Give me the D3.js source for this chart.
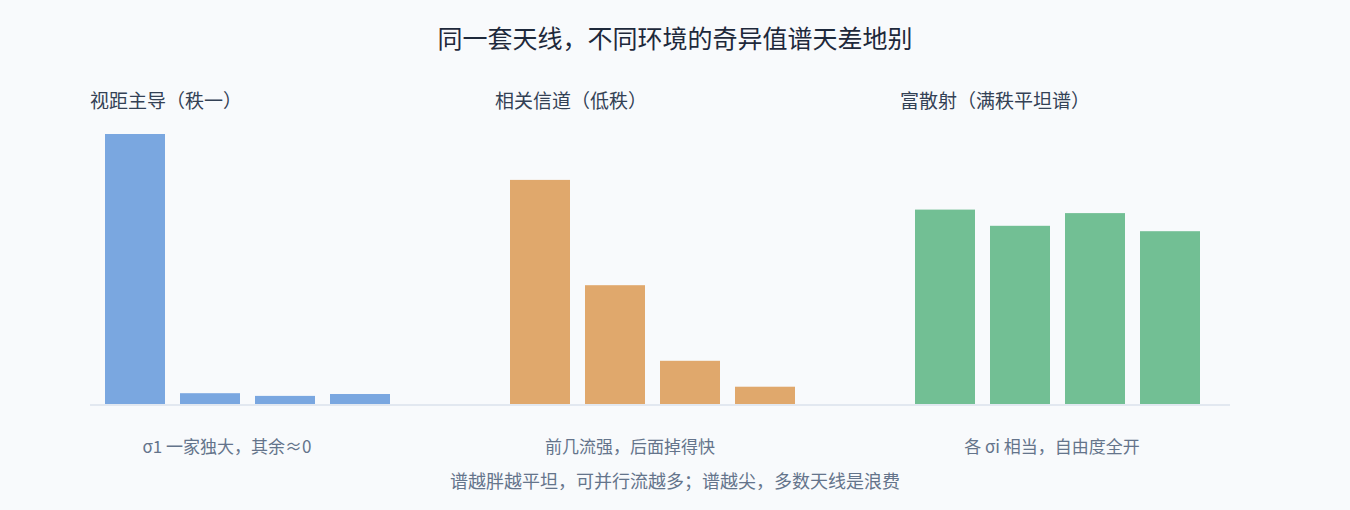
<!DOCTYPE html>
<html>
<head>
<meta charset="utf-8">
<script src="https://cdn.jsdelivr.net/npm/d3@7"></script>
<style>
  html, body { margin: 0; padding: 0; background: #f8fafc; }
  svg { display: block; font-family: "Noto Sans CJK SC", "Noto Sans", sans-serif; }
</style>
</head>
<body>
<div class="board"></div>
<script>
var width = 1350,
    height = 510

// data (singular values, arbitrary units)
const panels = ["los", "corr", "rich"]
const panelTitles = ["视距主导（秩一）", "相关信道（低秩）", "富散射（满秩平坦谱）"]
const panelNotes = ["σ1 一家独大，其余≈0", "前几流强，后面掉得快", "各 σi 相当，自由度全开"]
const sigmas = ["σ1", "σ2", "σ3", "σ4"]
const losValues = [10, 0.4, 0.3, 0.37]
const corrValues = [8.3, 4.4, 1.6, 0.64]
const richValues = [7.2, 6.6, 7.07, 6.4]
const panelColors = ["#7aa7e0", "#e0a86c", "#72bf94"]
const chartTitle = "同一套天线，不同环境的奇异值谱天差地别"
const footNote = "谱越胖越平坦，可并行流越多；谱越尖，多数天线是浪费"

const series = [losValues, corrValues, richValues]

var svg = d3.select(".board")
    .append("svg")
    .attr("width", width)
    .attr("height", height)

svg.append("rect")
    .attr("width", width)
    .attr("height", height)
    .attr("fill", "#f8fafc")

let panelX = d3.scaleBand()
    .domain(panels)
    .range([90, 1230])
    .paddingInner(75 / 405)

let xScale = d3.scaleBand()
    .domain(sigmas)
    .range([0, 315])
    .paddingInner(0.2)
    .paddingOuter(0.2)

let yScale = d3.scaleLinear()
    .domain([0, 10])
    .range([404, 134])

svg.append("text")
    .attr("x", width / 2)
    .attr("y", 37)
    .attr("text-anchor", "middle")
    .attr("dominant-baseline", "central")
    .attr("fill", "#1e293b")
    .attr("font-size", 25)
    .text(chartTitle)

panels.forEach((p, k) => {
    let g = svg.append("g")
        .attr("transform", `translate(${panelX(p)}, 0)`)

    g.append("text")
        .attr("x", 0)
        .attr("y", 99)
        .attr("dominant-baseline", "central")
        .attr("fill", "#334155")
        .attr("font-size", 19)
        .text(panelTitles[k])

    g.selectAll(".bar")
        .data(series[k])
        .enter()
        .append("rect")
        .attr("class", "bar")
        .attr("x", (d, i) => xScale(sigmas[i]))
        .attr("width", xScale.bandwidth())
        .attr("y", d => yScale(d))
        .attr("height", d => yScale(0) - yScale(d))
        .attr("fill", panelColors[k])
})

// shared baseline
svg.append("line")
    .attr("x1", panelX.range()[0])
    .attr("x2", panelX.range()[1])
    .attr("y1", yScale(0) + 1)
    .attr("y2", yScale(0) + 1)
    .attr("stroke", "#e2e8f0")
    .attr("stroke-width", 2)

// per-panel notes (centres as they sit in the picture)
const noteCenters = [227, 630, 1052]
panelNotes.forEach((t, k) => {
    svg.append("text")
        .attr("x", noteCenters[k])
        .attr("y", 445)
        .attr("text-anchor", "middle")
        .attr("dominant-baseline", "central")
        .attr("fill", "#64748b")
        .attr("font-size", 17)
        .text(t)
})

svg.append("text")
    .attr("x", width / 2)
    .attr("y", 480)
    .attr("text-anchor", "middle")
    .attr("dominant-baseline", "central")
    .attr("fill", "#64748b")
    .attr("font-size", 18)
    .text(footNote)
</script>
</body>
</html>
